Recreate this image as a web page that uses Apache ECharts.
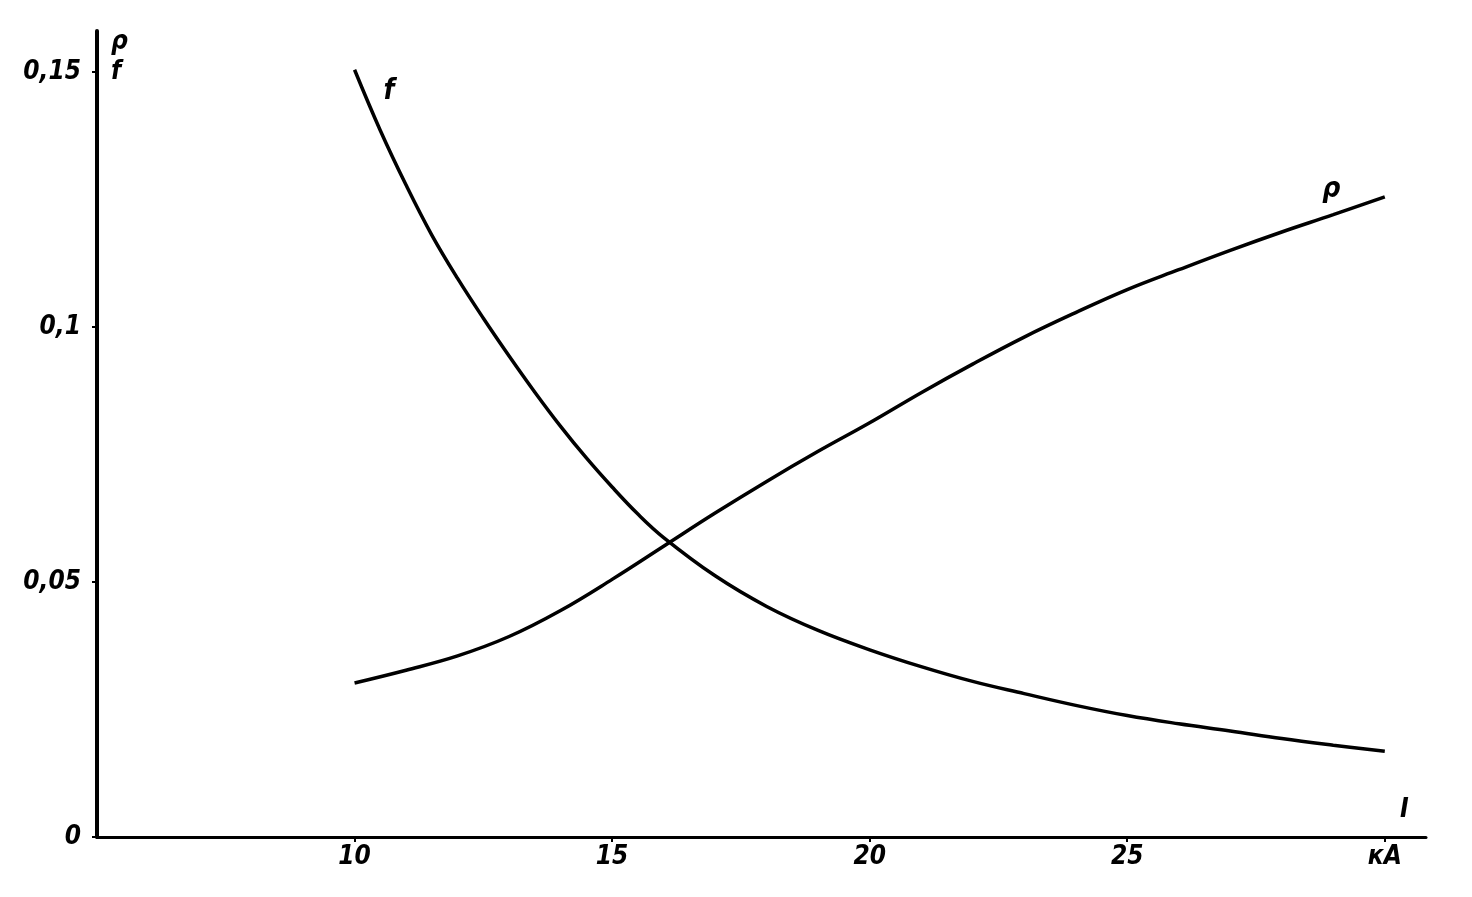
<!DOCTYPE html>
<html>
<head>
<meta charset="utf-8">
<script src="https://cdn.jsdelivr.net/npm/echarts@6/dist/echarts.min.js"></script>
<style>
html,body{margin:0;padding:0;background:#fff;}
#chart{width:1472px;height:897px;}
</style>
</head>
<body>
<div id="chart"></div>
<script>
// Current I, kA
const fI   = [10, 10.5, 11, 11.5, 12, 12.5, 13, 13.5, 14, 14.5, 15, 15.5, 16, 17, 18, 19, 20, 21, 22, 23, 24, 25, 26, 27, 28, 29, 30];
const fVal = [0.1504, 0.1385, 0.1278, 0.1180, 0.1095, 0.1017, 0.0943, 0.0872, 0.0805, 0.0743, 0.0686, 0.0633, 0.0587, 0.0512, 0.0452, 0.0405, 0.0367, 0.0334, 0.0305, 0.0281, 0.0258, 0.0238, 0.0222, 0.0208, 0.0193, 0.0180, 0.0168];
const rhoI   = [10, 11, 12, 13, 14, 15, 16, 17, 18, 19, 20, 21, 22, 23, 24, 25, 26, 27, 28, 29, 30];
const rhoVal = [0.0302, 0.0327, 0.0355, 0.0393, 0.0444, 0.0505, 0.0570, 0.0635, 0.0697, 0.0756, 0.0812, 0.0871, 0.0927, 0.0980, 0.1028, 0.1073, 0.1112, 0.1150, 0.1186, 0.1220, 0.1255];
const xTickLabels = {10: '10', 15: '15', 20: '20', 25: '25', 30: 'кА'};
const yTickLabels = {0: '0', 0.05: '0,05', 0.1: '0,1', 0.15: '0,15'};
const fName = 'f';
const rhoName = 'ρ';

const FONT = "'Liberation Sans Narrow', 'DejaVu Sans Condensed', sans-serif";
const labelStyle = {fontFamily: FONT, fontStyle: 'italic', fontWeight: 'bold', color: '#000'};

const fData = fI.map((x, i) => {
  const d = {value: [x, fVal[i]]};
  if (i === 0) d.label = {show: true, formatter: fName, position: 'right', offset: [24, 22], fontSize: 28, ...labelStyle};
  return d;
});
const rhoData = rhoI.map((x, i) => {
  const d = {value: [x, rhoVal[i]]};
  if (x === 29) d.label = {show: true, formatter: rhoName, position: 'top', offset: [-2, -6], fontSize: 28, ...labelStyle};
  return d;
});

const chart = echarts.init(document.getElementById('chart'), null, {renderer: 'canvas'});
chart.setOption({
  animation: false,
  backgroundColor: '#fff',
  grid: {left: 97, right: 46, top: 31, bottom: 60, containLabel: false},
  xAxis: {
    type: 'value', min: 5, max: 30.8, interval: 5,
    name: 'I', nameLocation: 'end', nameGap: -26,
    nameTextStyle: {fontSize: 26, verticalAlign: 'bottom', padding: [0, 0, 14, 0], ...labelStyle},
    axisLine: {show: true, lineStyle: {color: '#000', width: 3}},
    axisTick: {show: true, length: 5, lineStyle: {color: '#000', width: 2}},
    splitLine: {show: false},
    axisLabel: {
      margin: 7, fontSize: 26, ...labelStyle, showMaxLabel: false, showMinLabel: false,
      formatter: v => xTickLabels[v] !== undefined ? xTickLabels[v] : ''
    }
  },
  yAxis: {
    type: 'value', min: 0, max: 0.158, interval: 0.05,
    name: rhoName + '\n' + fName, nameLocation: 'end', nameGap: -56,
    nameTextStyle: {fontSize: 26, lineHeight: 30, align: 'left', padding: [0, 0, 0, 14], ...labelStyle},
    axisLine: {show: true, lineStyle: {color: '#000', width: 4}},
    axisTick: {show: true, length: 5, lineStyle: {color: '#000', width: 2}},
    splitLine: {show: false},
    axisLabel: {
      margin: 16, fontSize: 26, ...labelStyle, showMaxLabel: false,
      formatter: v => {
        const k = Math.round(v * 100) / 100;
        return yTickLabels[k] !== undefined ? yTickLabels[k] : '';
      }
    }
  },
  series: [
    {
      name: fName, type: 'line', data: fData, smooth: 0.4, showSymbol: true, symbol: 'circle', symbolSize: 0,
      lineStyle: {color: '#000', width: 3.5}, itemStyle: {color: '#000'}, z: 3
    },
    {
      name: rhoName, type: 'line', data: rhoData, smooth: 0.4, showSymbol: true, symbol: 'circle', symbolSize: 0,
      lineStyle: {color: '#000', width: 3.5}, itemStyle: {color: '#000'}, z: 3
    }
  ]
});
</script>
</body>
</html>
